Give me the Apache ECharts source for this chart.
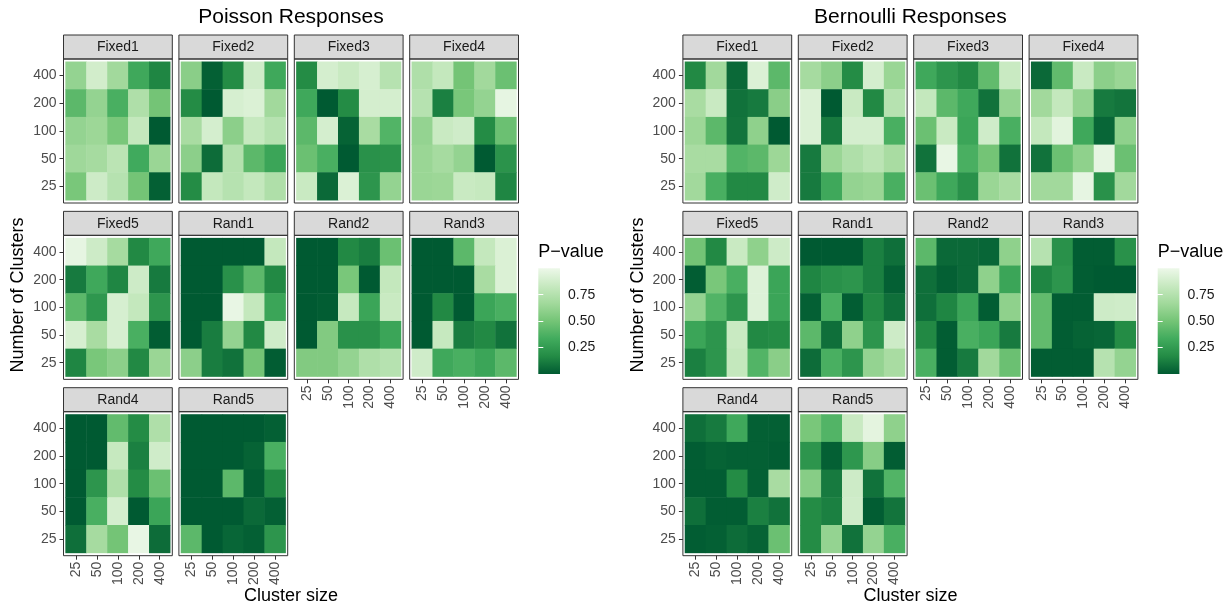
<!DOCTYPE html>
<html><head><meta charset="utf-8">
<script src="https://cdn.jsdelivr.net/npm/echarts@6/dist/echarts.min.js"></script>
<style>html,body{margin:0;padding:0;background:#fff}#c{width:1227px;height:604px}</style>
</head><body><div id="c"></div>
<script>
// ---------- data ----------
const clusterSizes = ['25', '50', '100', '200', '400'];        // x categories
const numClusters = ['25', '50', '100', '200', '400'];         // y categories (bottom -> top)
const facetNames = ['Fixed1','Fixed2','Fixed3','Fixed4','Fixed5','Rand1','Rand2','Rand3','Rand4','Rand5'];
const panelTitles = ['Poisson Responses', 'Bernoulli Responses'];
const legendTicks = [0.25, 0.5, 0.75];

// Each matrix: rows listed top (400 clusters) to bottom (25 clusters); columns cluster size 25..400
const poisFixed1 = [[0.62,0.88,0.67,0.32,0.15],[0.42,0.62,0.36,0.73,0.50],[0.62,0.65,0.52,0.82,0.00],[0.66,0.69,0.78,0.33,0.64],[0.52,0.86,0.76,0.50,0.02]];
const poisFixed2 = [[0.58,0.02,0.17,0.87,0.32],[0.17,0.00,0.90,0.92,0.67],[0.70,0.89,0.59,0.83,0.76],[0.59,0.06,0.75,0.42,0.30],[0.17,0.82,0.76,0.82,0.73]];
const poisFixed3 = [[0.17,0.89,0.84,0.90,0.76],[0.32,0.00,0.17,0.89,0.89],[0.42,0.89,0.03,0.70,0.39],[0.47,0.36,0.00,0.20,0.21],[0.84,0.05,0.92,0.22,0.62]];
const poisFixed4 = [[0.73,0.82,0.50,0.67,0.47],[0.76,0.13,0.52,0.62,0.97],[0.62,0.84,0.87,0.17,0.47],[0.64,0.69,0.62,0.00,0.21],[0.64,0.65,0.84,0.83,0.15]];
const poisFixed5 = [[0.97,0.86,0.69,0.16,0.32],[0.11,0.32,0.15,0.86,0.11],[0.42,0.23,0.90,0.82,0.22],[0.90,0.70,0.90,0.36,0.01],[0.15,0.52,0.59,0.16,0.64]];
const poisRand1  = [[0.00,0.00,0.00,0.00,0.82],[0.00,0.00,0.20,0.42,0.16],[0.00,0.00,0.98,0.82,0.30],[0.00,0.12,0.62,0.16,0.87],[0.59,0.12,0.08,0.50,0.01]];
const poisRand2  = [[0.00,0.00,0.16,0.12,0.47],[0.00,0.00,0.52,0.00,0.82],[0.00,0.01,0.83,0.30,0.84],[0.00,0.55,0.20,0.20,0.30],[0.55,0.55,0.62,0.73,0.76]];
const poisRand3  = [[0.00,0.00,0.42,0.82,0.92],[0.00,0.00,0.00,0.70,0.92],[0.00,0.16,0.00,0.30,0.36],[0.00,0.83,0.12,0.16,0.08],[0.87,0.32,0.36,0.30,0.42]];
const poisRand4  = [[0.00,0.00,0.44,0.17,0.73],[0.00,0.00,0.83,0.13,0.87],[0.00,0.22,0.73,0.17,0.47],[0.00,0.36,0.89,0.00,0.30],[0.07,0.69,0.50,0.98,0.06]];
const poisRand5  = [[0.00,0.00,0.00,0.00,0.02],[0.00,0.00,0.00,0.03,0.36],[0.00,0.00,0.42,0.01,0.16],[0.00,0.00,0.00,0.05,0.02],[0.42,0.00,0.04,0.02,0.22]];

const bernFixed1 = [[0.16,0.67,0.05,0.92,0.42],[0.70,0.84,0.08,0.11,0.58],[0.65,0.42,0.09,0.60,0.00],[0.70,0.70,0.39,0.42,0.65],[0.67,0.36,0.16,0.16,0.87]];
const bernFixed2 = [[0.69,0.59,0.17,0.89,0.64],[0.92,0.00,0.84,0.16,0.76],[0.92,0.11,0.89,0.89,0.36],[0.11,0.64,0.73,0.78,0.70],[0.11,0.32,0.62,0.64,0.36]];
const bernFixed3 = [[0.32,0.22,0.16,0.44,0.84],[0.82,0.42,0.32,0.08,0.62],[0.47,0.84,0.30,0.87,0.36],[0.08,0.98,0.36,0.50,0.08],[0.47,0.32,0.20,0.64,0.70]];
const bernFixed4 = [[0.05,0.44,0.84,0.59,0.64],[0.67,0.82,0.62,0.11,0.09],[0.82,0.95,0.32,0.04,0.60],[0.08,0.47,0.60,0.97,0.47],[0.67,0.67,0.97,0.20,0.67]];
const bernFixed5 = [[0.50,0.16,0.84,0.60,0.86],[0.01,0.52,0.36,0.93,0.30],[0.62,0.39,0.22,0.93,0.30],[0.30,0.22,0.84,0.16,0.17],[0.13,0.22,0.82,0.39,0.58]];
const bernRand1  = [[0.00,0.00,0.00,0.13,0.07],[0.15,0.20,0.22,0.13,0.02],[0.02,0.36,0.01,0.16,0.07],[0.42,0.07,0.60,0.22,0.86],[0.06,0.36,0.22,0.62,0.70]];
const bernRand2  = [[0.42,0.05,0.05,0.04,0.60],[0.07,0.02,0.05,0.60,0.30],[0.07,0.15,0.30,0.01,0.60],[0.16,0.01,0.36,0.30,0.11],[0.36,0.01,0.11,0.67,0.47]];
const bernRand3  = [[0.76,0.20,0.01,0.01,0.20],[0.15,0.22,0.01,0.00,0.00],[0.44,0.01,0.01,0.86,0.87],[0.44,0.01,0.03,0.04,0.17],[0.01,0.01,0.01,0.76,0.62]];
const bernRand4  = [[0.07,0.11,0.32,0.02,0.02],[0.01,0.03,0.02,0.02,0.01],[0.01,0.01,0.17,0.02,0.70],[0.07,0.01,0.01,0.13,0.08],[0.01,0.02,0.06,0.03,0.47]];
const bernRand5  = [[0.52,0.39,0.84,0.96,0.60],[0.22,0.02,0.23,0.57,0.01],[0.57,0.11,0.86,0.08,0.39],[0.17,0.13,0.87,0.01,0.09],[0.17,0.62,0.08,0.62,0.36]];

const poissonFacets = [poisFixed1,poisFixed2,poisFixed3,poisFixed4,poisFixed5,poisRand1,poisRand2,poisRand3,poisRand4,poisRand5];
const bernoulliFacets = [bernFixed1,bernFixed2,bernFixed3,bernFixed4,bernFixed5,bernRand1,bernRand2,bernRand3,bernRand4,bernRand5];

// ---------- style / layout ----------
const greens = ['#005a32','#238b45','#41ab5d','#74c476','#a1d99b','#c7e9c0','#edf8e9'];
const FONT = '"Liberation Sans", Arial, Helvetica, sans-serif';
const PANEL_X0 = [63.5, 682.9];
const COL_PITCH = 115.4, PW = 108.8;
const ROW_TOP0 = 35, ROW_PITCH = 176.35, STRIP_H = 24, PH = 144;
const GX = PW * 0.1 / 5.2, GY = PH * 0.1 / 5.2;
const LEG_X = 538.3, LEG_TOP = 268.3, LEG_W = 21.7, LEG_H = 105.7;

const grids = [], xAxes = [], yAxes = [], series = [], graphics = [];
const panels = [poissonFacets, bernoulliFacets];

panels.forEach((facets, pi) => {
  const px = PANEL_X0[pi];
  facets.forEach((mat, i) => {
    const r = Math.floor(i / 4), c = i % 4;
    const bx = px + c * COL_PITCH;
    const sy = ROW_TOP0 + r * ROW_PITCH;
    const by = sy + STRIP_H;
    const gi = grids.length, xi = xAxes.length, yi = yAxes.length;
    grids.push({ left: bx + GX, top: by + GY, width: PW - 2 * GX, height: PH - 2 * GY });
    const showX = i >= 8 || (r === 1 && c >= 2);
    const showY = c === 0;
    xAxes.push({
      type: 'category', gridIndex: gi, data: clusterSizes, position: 'bottom', offset: GY,
      axisLine: { show: false }, splitLine: { show: false },
      axisTick: { show: showX, alignWithLabel: true, length: 4, lineStyle: { color: '#333333' } },
      axisLabel: { show: showX, rotate: 90, margin: 6, color: '#4d4d4d', fontSize: 14, fontFamily: FONT }
    });
    yAxes.push({
      type: 'category', gridIndex: gi, data: numClusters, position: 'left', offset: GX,
      axisLine: { show: false }, splitLine: { show: false },
      axisTick: { show: showY, alignWithLabel: true, length: 4, lineStyle: { color: '#333333' } },
      axisLabel: { show: showY, margin: 7, color: '#4d4d4d', fontSize: 14, fontFamily: FONT }
    });
    const data = [];
    mat.forEach((row, ri) => row.forEach((v, ci) => data.push([ci, numClusters.length - 1 - ri, v])));
    series.push({ type: 'heatmap', xAxisIndex: xi, yAxisIndex: yi, data,
      itemStyle: { borderWidth: 0 }, emphasis: { disabled: true }, progressive: 0 });
    graphics.push({ type: 'rect', shape: { x: bx, y: sy, width: PW, height: STRIP_H },
      style: { fill: '#d9d9d9', stroke: '#333333', lineWidth: 1 }, z: 5 });
    graphics.push({ type: 'text', x: bx + PW / 2, y: sy + STRIP_H / 2 + 0.5,
      style: { text: facetNames[i], fill: '#1a1a1a', font: '14px ' + FONT, align: 'center', verticalAlign: 'middle' }, z: 6 });
    graphics.push({ type: 'rect', shape: { x: bx, y: by, width: PW, height: PH },
      style: { fill: null, stroke: '#333333', lineWidth: 1 }, z: 5 });
  });

  // panel-wide texts
  const cx = (px + px + 3 * COL_PITCH + PW) / 2;
  graphics.push({ type: 'text', x: cx, y: 17, style: { text: panelTitles[pi], fill: '#000', font: '21px ' + FONT, align: 'center', verticalAlign: 'middle' } });
  graphics.push({ type: 'text', x: cx, y: 596, style: { text: 'Cluster size', fill: '#000', font: '18px ' + FONT, align: 'center', verticalAlign: 'middle' } });
  graphics.push({ type: 'text', x: px - 45, y: 295, rotation: Math.PI / 2,
    style: { text: 'Number of Clusters', fill: '#000', font: '18px ' + FONT, align: 'center', verticalAlign: 'middle' } });

  // colour bar legend
  const lx = LEG_X + (px - PANEL_X0[0]);
  graphics.push({ type: 'text', x: lx, y: 252, style: { text: 'P\u2212value', fill: '#000', font: '18px ' + FONT, align: 'left', verticalAlign: 'middle' } });
  const lg = grids.length;
  grids.push({ left: lx, top: LEG_TOP, width: LEG_W, height: LEG_H, show: true, borderWidth: 0,
    backgroundColor: new echarts.graphic.LinearGradient(0, 1, 0, 0,
      greens.map((col, k) => ({ offset: k / (greens.length - 1), color: col }))) });
  xAxes.push({ type: 'value', gridIndex: lg, show: false, min: 0, max: 1 });
  yAxes.push({ type: 'value', gridIndex: lg, min: 0, max: 1, position: 'right',
    axisLine: { show: false }, splitLine: { show: false },
    axisTick: { show: true, inside: true, length: 5, customValues: legendTicks, lineStyle: { color: '#ffffff', width: 1 } },
    axisLabel: { show: true, margin: 8, customValues: legendTicks, formatter: v => v.toFixed(2), color: '#1a1a1a', fontSize: 14, fontFamily: FONT } });
  yAxes.push({ type: 'value', gridIndex: lg, min: 0, max: 1, position: 'left',
    axisLine: { show: false }, splitLine: { show: false }, axisLabel: { show: false },
    axisTick: { show: true, inside: true, length: 5, customValues: legendTicks, lineStyle: { color: '#ffffff', width: 1 } } });
});

const chart = echarts.init(document.getElementById('c'), null, { renderer: 'canvas' });
chart.setOption({
  animation: false,
  backgroundColor: '#ffffff',
  grid: grids, xAxis: xAxes, yAxis: yAxes, series,
  visualMap: { type: 'continuous', show: false, min: 0, max: 1, seriesIndex: series.map((s, k) => k),
    inRange: { color: greens } },
  graphic: graphics
});
</script></body></html>
